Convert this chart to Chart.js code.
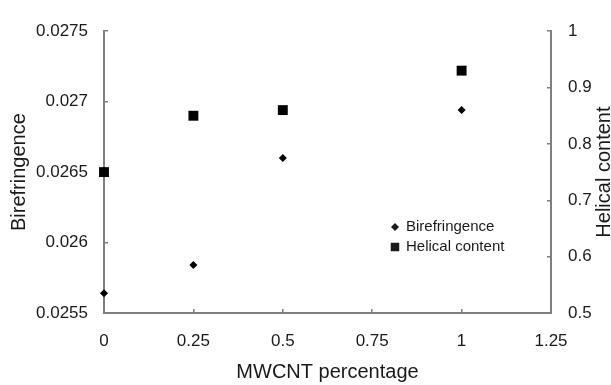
<!DOCTYPE html>
<html>
<head>
<meta charset="utf-8">
<script src="https://cdn.jsdelivr.net/npm/chart.js@4.4.1/dist/chart.umd.min.js"></script>
<style>
    body { margin: 0; background: #fff; }
    canvas { display: block; }
</style>
</head>
<body>
<canvas id="grafico" width="611" height="385"></canvas>
<script>
const mwcnt = [0, 0.25, 0.5, 1];
const birefringence = [0.02564, 0.02584, 0.0266, 0.02694];
const helical = [0.75, 0.85, 0.86, 0.93];

const xTicks = [0, 0.25, 0.5, 0.75, 1, 1.25];
const leftTicks = [0.0255, 0.026, 0.0265, 0.027, 0.0275];
const rightTicks = [0.5, 0.6, 0.7, 0.8, 0.9, 1];

const fuente = "'Liberation Sans', Arial, sans-serif";
const gris = "#7f7f7f";
const texto = "#1a1a1a";

function puntos(ys) {
    return mwcnt.map((x, i) => ({ x: x, y: ys[i] }));
}

function fijarTicks(lista) {
    return scale => { scale.ticks = lista.map(v => ({ value: v })); };
}

// leyenda dentro del area del grafico
const leyenda = {
    id: "leyenda",
    afterDatasetsDraw(chart) {
        const ctx = chart.ctx;
        ctx.save();
        ctx.font = "15px " + fuente;
        ctx.textBaseline = "middle";
        ctx.fillStyle = texto;
        chart.data.datasets.forEach((ds, i) => {
            const y = 227 + i * 20;
            Chart.helpers.drawPoint(ctx, {
                pointStyle: ds.pointStyle,
                radius: i === 0 ? 4 : 6,
                borderWidth: 0
            }, 395, y);
            ctx.fillStyle = texto;
            ctx.fillText(ds.label, 406, y);
        });
        ctx.restore();
    }
};

// titulo del eje derecho, leido de abajo hacia arriba
const tituloDerecho = {
    id: "tituloDerecho",
    afterDraw(chart) {
        const ctx = chart.ctx;
        const area = chart.chartArea;
        ctx.save();
        ctx.translate(604, (area.top + area.bottom) / 2);
        ctx.rotate(-Math.PI / 2);
        ctx.font = "20px " + fuente;
        ctx.fillStyle = texto;
        ctx.textAlign = "center";
        ctx.textBaseline = "middle";
        ctx.fillText("Helical content", 0, 0);
        ctx.restore();
    }
};

const data = {
    datasets: [
        {
            label: "Birefringence",
            data: puntos(birefringence),
            yAxisID: "y",
            pointStyle: "rectRot",
            pointRadius: 4,
            backgroundColor: "#000",
            borderColor: "#000",
            borderWidth: 0,
            showLine: false,
            clip: false
        },
        {
            label: "Helical content",
            data: puntos(helical),
            yAxisID: "y2",
            pointStyle: "rect",
            pointRadius: 7,
            backgroundColor: "#000",
            borderColor: "#000",
            borderWidth: 0,
            showLine: false,
            clip: false
        }
    ]
};

const ejeGrid = { drawOnChartArea: false, color: gris, lineWidth: 1.5, tickLength: -4 };
const ejeBorde = { display: true, color: gris, width: 2 };

const config = {
    type: "scatter",
    data: data,
    options: {
        responsive: false,
        animation: false,
        layout: { padding: { top: 21, left: 0, right: 0, bottom: 0 } },
        plugins: {
            legend: { display: false },
            tooltip: { enabled: false }
        },
        scales: {
            x: {
                type: "linear",
                min: 0,
                max: 1.25,
                afterBuildTicks: fijarTicks(xTicks),
                afterFit: s => { s.height = 72; },
                grid: ejeGrid,
                border: ejeBorde,
                ticks: { color: texto, font: { family: fuente, size: 17 }, padding: 22, callback: v => String(v) },
                title: { display: true, text: "MWCNT percentage", color: texto, font: { family: fuente, size: 20 }, padding: { top: 0, bottom: 1 } }
            },
            y: {
                type: "linear",
                position: "left",
                min: 0.0255,
                max: 0.0275,
                afterBuildTicks: fijarTicks(leftTicks),
                afterFit: s => { s.width = 104; },
                grid: ejeGrid,
                border: ejeBorde,
                ticks: { color: texto, font: { family: fuente, size: 17 }, padding: 20, callback: v => String(v) },
                title: { display: true, text: "Birefringence", color: texto, font: { family: fuente, size: 20 }, padding: { top: 7, bottom: 0 } }
            },
            y2: {
                type: "linear",
                position: "right",
                min: 0.5,
                max: 1,
                afterBuildTicks: fijarTicks(rightTicks),
                afterFit: s => { s.width = 60; },
                grid: ejeGrid,
                border: ejeBorde,
                ticks: { color: texto, font: { family: fuente, size: 17 }, padding: 21, callback: v => String(v) }
            }
        }
    },
    plugins: [leyenda, tituloDerecho]
};

new Chart(document.getElementById("grafico"), config);
</script>
</body>
</html>
